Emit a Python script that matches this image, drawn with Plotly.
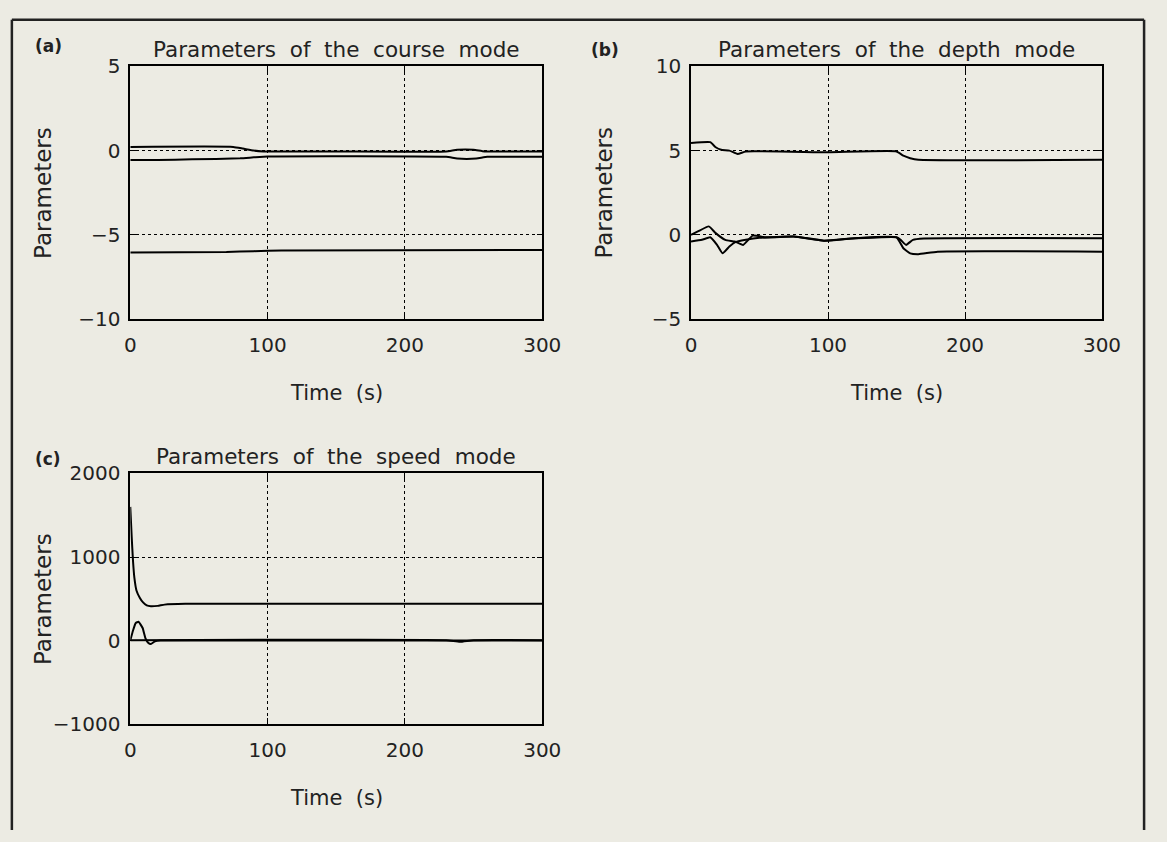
import plotly.graph_objects as go

W, H = 1167, 842
BG = "#ecebe3"
FONT = "DejaVu Sans"

# ---- (a) course mode parameters ----
a1_t = [0, 75, 82, 90, 97, 150, 230, 238, 250, 258, 300]
a1_v = [0.22, 0.22, 0.12, 0.0, -0.05, -0.05, -0.05, 0.05, 0.05, -0.05, -0.05]
a2_t = [0, 20, 45, 80, 90, 100, 230, 238, 252, 260, 300]
a2_v = [-0.56, -0.56, -0.52, -0.46, -0.4, -0.35, -0.37, -0.47, -0.47, -0.37, -0.37]
a3_t = [0, 70, 90, 110, 300]
a3_v = [-6.05, -6.02, -5.97, -5.93, -5.9]

# ---- (b) depth mode parameters ----
b1_t = [0, 14, 18, 22, 28, 34, 40, 100, 150, 155, 160, 166, 300]
b1_v = [5.45, 5.5, 5.2, 5.05, 5.0, 4.8, 4.95, 4.9, 4.95, 4.7, 4.55, 4.45, 4.45]
b2_t = [0, 5, 13, 18, 25, 32, 38, 45, 55, 75, 85, 97, 120, 150, 153, 157, 162, 170, 300]
b2_v = [0.0, 0.2, 0.5, 0.1, -0.3, -0.4, -0.6, -0.05, -0.15, -0.1, -0.2, -0.35, -0.2, -0.15, -0.3, -0.6, -0.3, -0.22, -0.2]
b3_t = [0, 8, 14, 19, 23, 28, 32, 40, 50, 75, 97, 120, 150, 155, 160, 166, 180, 300]
b3_v = [-0.4, -0.3, -0.15, -0.6, -1.1, -0.7, -0.45, -0.3, -0.18, -0.1, -0.35, -0.2, -0.15, -0.8, -1.1, -1.15, -1.0, -1.0]

# ---- (c) speed mode parameters ----
c1_t = [0, 1, 2, 3, 4.5, 7, 9.3, 12, 15, 20, 25, 40, 300]
c1_v = [1600, 1250, 950, 750, 600, 510, 457, 420, 410, 415, 430, 440, 440]
c2_t = [0, 2, 4, 6, 9, 11, 13, 15, 18, 22, 300]
c2_v = [0, 120, 210, 225, 150, 30, -25, -40, -10, 0, 0]
c3_t = [0, 230, 240, 250, 300]
c3_v = [5, 5, -15, 5, 5]

x_ticks = [0, 100, 200, 300]
a_ticks = [-10, -5, 0, 5]
b_ticks = [-5, 0, 5, 10]
c_ticks = [-1000, 0, 1000, 2000]

titles = ["Parameters of the course mode", "Parameters of the depth mode",
          "Parameters of the speed mode"]
panel_tags = ["(a)", "(b)", "(c)"]
# centre of each panel tag, in pixels
tag_pos = [(43, 35), (612, 39), (43, 460)]


def px_x(x):
    return x / W


def px_y(y):
    return 1 - y / H


def spaced(s):
    # widen the gaps between words of a title
    return s.replace(" ", " \u00a0")


# plot boxes in pixels: (left, right, top, bottom)
boxes = [(127, 548, 56, 316), (700, 1120, 56, 316), (127, 548, 475, 733)]

fig = go.Figure()


def add_line(t, v, n):
    fig.add_trace(go.Scatter(
        x=t, y=v, mode="lines", line=dict(color="black", width=2, shape="spline", smoothing=0.4),
        xaxis="x" if n == 1 else f"x{n}", yaxis="y" if n == 1 else f"y{n}",
        showlegend=False, hoverinfo="skip"))


for t, v in [(a1_t, a1_v), (a2_t, a2_v), (a3_t, a3_v)]:
    add_line(t, v, 1)
for t, v in [(b1_t, b1_v), (b2_t, b2_v), (b3_t, b3_v)]:
    add_line(t, v, 2)
for t, v in [(c1_t, c1_v), (c2_t, c2_v), (c3_t, c3_v)]:
    add_line(t, v, 3)

common = dict(
    showline=True, linecolor="black", linewidth=1.5, mirror="ticks",
    ticks="inside", ticklen=6, tickcolor="black", tickwidth=1.2,
    showgrid=True, gridcolor="black", griddash="dot", gridwidth=1,
    zeroline=False, tickfont=dict(family=FONT, size=20, color="#222"),
)

layout = dict(
    width=W, height=H, margin=dict(l=0, r=0, t=0, b=0),
    paper_bgcolor=BG, plot_bgcolor=BG, showlegend=False,
)

y_specs = [([-10, 5], a_ticks), ([-5, 10], b_ticks), ([-1000, 2000], c_ticks)]
for i, ((l, r, tp, bt), (yr, yt)) in enumerate(zip(boxes, y_specs), start=1):
    sx = "" if i == 1 else str(i)
    layout[f"xaxis{sx}"] = dict(
        common, domain=[px_x(l), px_x(r)], range=[0, 300], tickvals=x_ticks,
        anchor=f"y{sx}", ticklabelstandoff=7)
    layout[f"yaxis{sx}"] = dict(
        common, domain=[px_y(bt), px_y(tp)], range=yr, tickvals=yt,
        anchor=f"x{sx}", ticklabelstandoff=4)

annotations = []
txt = dict(family=FONT, color="#222")
for (l, r, tp, bt), title, tag, (tx, ty) in zip(boxes, titles, panel_tags, tag_pos):
    cx = (l + r) / 2
    annotations.append(dict(x=px_x(cx), y=px_y(tp - 17), xref="paper", yref="paper",
                            text=spaced(title), showarrow=False, font=dict(txt, size=21.5),
                            xanchor="center", yanchor="middle"))
    annotations.append(dict(x=px_x(cx), y=px_y(bt + 76), xref="paper", yref="paper",
                            text="Time \u00a0(s)", showarrow=False, font=dict(txt, size=21),
                            xanchor="center", yanchor="middle"))
    annotations.append(dict(x=px_x(l - 89), y=px_y((tp + bt) / 2), xref="paper",
                            yref="paper", text="Parameters", showarrow=False,
                            textangle=-90, font=dict(txt, size=23),
                            xanchor="center", yanchor="middle"))
    annotations.append(dict(x=px_x(tx), y=px_y(ty), xref="paper", yref="paper",
                            text=f"<b>{tag}</b>", showarrow=False,
                            font=dict(family=FONT, size=17, color="#222"),
                            xanchor="center", yanchor="middle"))
layout["annotations"] = annotations

# outer frame around the panels
layout["shapes"] = [
    dict(type="line", xref="paper", yref="paper", x0=px_x(6), x1=px_x(1163),
         y0=px_y(8), y1=px_y(8), line=dict(color="#222", width=2.5)),
    dict(type="line", xref="paper", yref="paper", x0=px_x(6), x1=px_x(6),
         y0=px_y(8), y1=0, line=dict(color="#222", width=2.5)),
    dict(type="line", xref="paper", yref="paper", x0=px_x(1163), x1=px_x(1163),
         y0=px_y(8), y1=0, line=dict(color="#222", width=2.5)),
]

fig.update_layout(**layout)
fig.write_html(
    "out.html",
    post_script="document.body.style.margin='0';"
                "document.body.style.overflow='hidden';"
                f"document.body.style.background='{BG}';",
)
